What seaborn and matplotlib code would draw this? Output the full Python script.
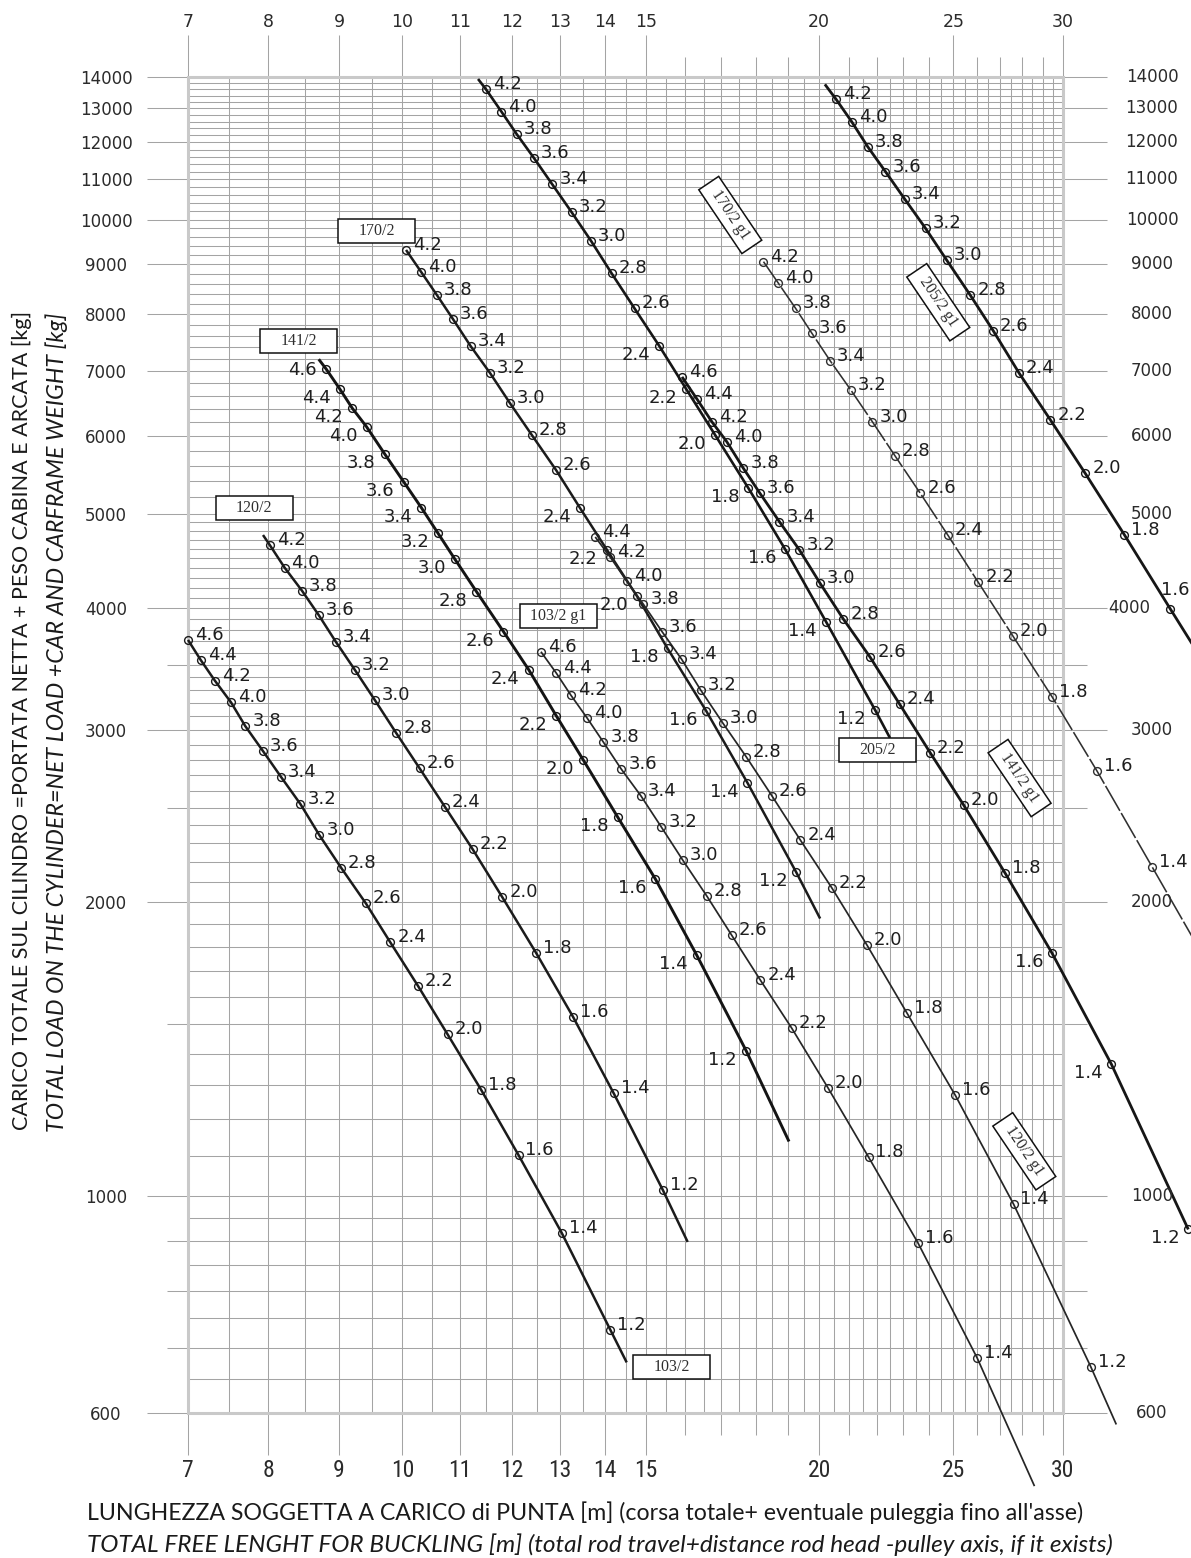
import matplotlib
matplotlib.use("Agg")
import matplotlib.pyplot as plt
import numpy as np
import pandas as pd
import seaborn as sns
from matplotlib import font_manager
from matplotlib.patches import Rectangle
from matplotlib.collections import LineCollection
from matplotlib.transforms import Affine2D, ScaledTranslation
from matplotlib.ticker import NullLocator

# ---------------------------------------------------------------- data
X_TICKS = [7, 8, 9, 10, 11, 12, 13, 14, 15, 20, 25, 30]
Y_TICKS = [600, 1000, 2000, 3000, 4000, 5000, 6000, 7000, 8000, 9000,
           10000, 11000, 12000, 13000, 14000]

# free length [m], total load [kg], pressure label (None = unlabelled end of curve)
L_103 = [7.00, 7.15, 7.32, 7.52, 7.70, 7.93, 8.17, 8.44, 8.71, 9.03, 9.41, 9.80,
         10.26, 10.78, 11.40, 12.13, 13.03, 14.13, 14.52]
W_103 = [3713, 3541, 3373, 3204, 3030, 2857, 2689, 2521, 2343, 2170, 1995, 1820,
         1643, 1465, 1285, 1102, 918, 730, 676]
P_103 = [4.6, 4.4, 4.2, 4.0, 3.8, 3.6, 3.4, 3.2, 3.0, 2.8, 2.6, 2.4, 2.2, 2.0,
         1.8, 1.6, 1.4, 1.2, None]

L_120 = [7.93, 8.02, 8.22, 8.46, 8.70, 8.95, 9.24, 9.55, 9.90, 10.29, 10.73, 11.24,
         11.81, 12.49, 13.28, 14.21, 15.42, 16.07]
W_120 = [4755, 4644, 4403, 4171, 3937, 3698, 3459, 3223, 2979, 2743, 2506, 2266,
         2023, 1775, 1527, 1275, 1015, 898]
P_120 = [None, 4.2, 4.0, 3.8, 3.6, 3.4, 3.2, 3.0, 2.8, 2.6, 2.4, 2.2, 2.0, 1.8,
         1.6, 1.4, 1.2, None]

L_141 = [8.70, 8.81, 9.01, 9.20, 9.42, 9.71, 10.02, 10.32, 10.61, 10.91, 11.31, 11.83,
         12.34, 12.92, 13.51, 14.30, 15.23, 16.31, 17.71, 19.02]
W_141 = [7197, 7030, 6710, 6411, 6138, 5755, 5391, 5071, 4774, 4493, 4161, 3786,
         3459, 3102, 2797, 2447, 2113, 1767, 1410, 1138]
P_141 = [None, 4.6, 4.4, 4.2, 4.0, 3.8, 3.6, 3.4, 3.2, 3.0, 2.8, 2.6, 2.4, 2.2,
         2.0, 1.8, 1.6, 1.4, 1.2, None]

L_170 = [10.06, 10.32, 10.59, 10.88, 11.20, 11.57, 11.96, 12.40, 12.91, 13.44, 14.05,
         14.77, 15.54, 16.57, 17.75, 19.25, 20.03]
W_170 = [9312, 8834, 8372, 7906, 7424, 6964, 6486, 6020, 5543, 5064, 4592, 4117,
         3640, 3142, 2651, 2147, 1925]
P_170 = [4.2, 4.0, 3.8, 3.6, 3.4, 3.2, 3.0, 2.8, 2.6, 2.4, 2.2, 2.0, 1.8, 1.6,
         1.4, 1.2, None]

L_205 = [11.34, 11.49, 11.79, 12.09, 12.45, 12.83, 13.25, 13.68, 14.16, 14.71, 15.33,
         16.03, 16.82, 17.78, 18.90, 20.23, 21.95, 22.50]
W_205 = [13934, 13600, 12901, 12241, 11556, 10869, 10178, 9519, 8813, 8114, 7424,
         6709, 6020, 5309, 4597, 3875, 3147, 2946]
P_205 = [None, 4.2, 4.0, 3.8, 3.6, 3.4, 3.2, 3.0, 2.8, 2.6, 2.4, 2.2, 2.0, 1.8,
         1.6, 1.4, 1.2, None]

L_103G = [12.59, 12.91, 13.23, 13.59, 13.97, 14.39, 14.87, 15.38, 15.94, 16.59, 17.29,
          18.13, 19.11, 20.29, 21.71, 23.57, 26.01, 28.61]
W_103G = [3611, 3437, 3261, 3091, 2917, 2738, 2570, 2389, 2209, 2030, 1851, 1666,
          1486, 1292, 1097, 896, 683, 505]
P_103G = [4.6, 4.4, 4.2, 4.0, 3.8, 3.6, 3.4, 3.2, 3.0, 2.8, 2.6, 2.4, 2.2, 2.0,
          1.8, 1.6, 1.4, None]

L_120G = [13.78, 14.13, 14.52, 14.93, 15.40, 15.91, 16.42, 17.03, 17.71, 18.49, 19.38,
          20.43, 21.65, 23.14, 25.08, 27.63, 31.42, 32.78]
W_120G = [4733, 4512, 4266, 4038, 3786, 3547, 3300, 3055, 2820, 2570, 2317, 2068,
          1809, 1541, 1269, 982, 669, 584]
P_120G = [4.4, 4.2, 4.0, 3.8, 3.6, 3.4, 3.2, 3.0, 2.8, 2.6, 2.4, 2.2, 2.0, 1.8,
          1.6, 1.4, 1.2, None]

L_141G = [15.92, 16.32, 16.73, 17.15, 17.63, 18.11, 18.72, 19.35, 20.03, 20.82, 21.77,
          22.86, 24.05, 25.43, 27.25, 29.46, 32.51, 36.95]
W_141G = [6903, 6552, 6210, 5925, 5565, 5254, 4906, 4592, 4243, 3900, 3564, 3192,
          2847, 2516, 2142, 1774, 1366, 925]
P_141G = [4.6, 4.4, 4.2, 4.0, 3.8, 3.6, 3.4, 3.2, 3.0, 2.8, 2.6, 2.4, 2.2, 2.0,
          1.8, 1.6, 1.4, 1.2]

L_170G = [18.23, 18.69, 19.23, 19.76, 20.37, 21.08, 21.85, 22.69, 23.66, 24.78, 26.06,
          27.59, 29.46, 31.74, 34.79, 37.70]
W_170G = [9058, 8606, 8114, 7650, 7169, 6693, 6210, 5729, 5247, 4750, 4252, 3751,
          3247, 2727, 2175, 1783]
P_170G = [4.2, 4.0, 3.8, 3.6, 3.4, 3.2, 3.0, 2.8, 2.6, 2.4, 2.2, 2.0, 1.8, 1.6,
          1.4, None]

L_205G = [20.19, 20.57, 21.11, 21.68, 22.33, 23.06, 23.87, 24.72, 25.71, 26.71, 27.89,
          29.38, 31.13, 33.22, 35.86, 37.70]
W_205G = [13760, 13283, 12600, 11878, 11200, 10496, 9798, 9094, 8372, 7699, 6964,
          6237, 5499, 4759, 3995, 3566]
P_205G = [None, 4.2, 4.0, 3.8, 3.6, 3.4, 3.2, 3.0, 2.8, 2.6, 2.4, 2.2, 2.0, 1.8,
          1.6, None]

CURVE_NAMES = ["103/2", "120/2", "141/2", "170/2", "205/2",
               "103/2 g1", "120/2 g1", "141/2 g1", "170/2 g1", "205/2 g1"]
CURVE_DATA = [(L_103, W_103, P_103), (L_120, W_120, P_120), (L_141, W_141, P_141),
              (L_170, W_170, P_170), (L_205, W_205, P_205),
              (L_103G, W_103G, P_103G), (L_120G, W_120G, P_120G),
              (L_141G, W_141G, P_141G), (L_170G, W_170G, P_170G),
              (L_205G, W_205G, P_205G)]

# labels written on the left-hand side of their marker
LEFT_LABELS = {
    "141/2": {4.6, 4.4, 4.2, 4.0, 3.8, 3.6, 3.4, 3.2, 3.0, 2.8, 2.6, 2.4, 2.2, 2.0,
              1.8, 1.6, 1.4, 1.2},
    "170/2": {2.4, 2.2, 2.0, 1.8, 1.6, 1.4, 1.2},
    "205/2": {2.4, 2.2, 2.0, 1.8, 1.6, 1.4, 1.2},
    "141/2 g1": {1.6, 1.4, 1.2},
}

# ---------------------------------------------------------------- styles
LINE_STYLE = {
    "103/2": (1.8, "#1b1b1b", None),
    "120/2": (1.8, "#1b1b1b", None),
    "141/2": (2.1, "#141414", None),
    "170/2": (1.8, "#1b1b1b", None),
    "205/2": (1.9, "#161616", None),
    "103/2 g1": (1.25, "#262626", None),
    "120/2 g1": (1.25, "#262626", None),
    "141/2 g1": (2.0, "#161616", None),
    "170/2 g1": (1.15, "#303030", (18, 1.6)),
    "205/2 g1": (2.0, "#161616", None),
}

# name tags: text, anchor (length, load), rotation
TAG_TEXT = ["170/2", "141/2", "120/2", "103/2 g1", "103/2", "205/2",
            "170/2 g1", "205/2 g1", "141/2 g1", "120/2 g1"]
TAG_AT = [(9.585, 9739), (8.419, 7509), (7.813, 5073), (12.96, 3932), (15.64, 669),
          (22.05, 2861), (17.25, 10112), (24.38, 8232), (27.91, 2681), (28.13, 1112)]
TAG_ROT = [0, 0, 0, 0, 0, 0, -56, -56, -56, -56]

TITLE_X = ["LUNGHEZZA SOGGETTA A CARICO di PUNTA [m] (corsa totale+ eventuale puleggia fino all'asse)",
           "TOTAL FREE LENGHT FOR BUCKLING [m] (total rod travel+distance rod head -pulley axis, if it exists)"]
TITLE_Y = ["CARICO TOTALE SUL CILINDRO =PORTATA NETTA + PESO CABINA E ARCATA [kg]",
           "TOTAL LOAD ON THE CYLINDER=NET LOAD +CAR AND CARFRAME WEIGHT [kg]"]


def pick(*names):
    avail = {f.name for f in font_manager.fontManager.ttflist}
    for n in names:
        if n in avail:
            return n
    return "DejaVu Sans"


sns.set_style("white")
plt.rcParams["font.family"] = ["DejaVu Sans"]
FONT_TITLE = pick("Lato", "Open Sans", "Roboto")
FONT_NARROW = pick("Liberation Sans Narrow", "Roboto Condensed", "Lato")
FONT_TAG = pick("Liberation Serif", "DejaVu Serif")

W_PX, H_PX = 1191, 1558
fig = plt.figure(figsize=(W_PX / 100, H_PX / 100), dpi=100)
fig.patch.set_facecolor("white")
ax = fig.add_axes([188 / W_PX, 1 - 1413 / H_PX, (1063 - 188) / W_PX, (1413 - 77) / H_PX])
ax.set_xscale("log")
ax.set_yscale("log")
ax.set_xlim(7, 30)
ax.set_ylim(600, 14000)
for s in ax.spines.values():
    s.set_visible(False)
ax.set_facecolor("white")

# ---------------------------------------------------------------- grid paper
GRID_C = "#a4a4a4"
h_all = list(range(600, 1000, 50)) + list(range(1000, 5000, 100)) + list(range(5000, 14001, 200))
h_semi = [700, 800, 900, 1500, 2500, 3500]
h_minor = [v for v in h_all if v not in Y_TICKS and v not in h_semi]
v_all = [7 + 0.5 * i for i in range(47)]
v_int = [v for v in v_all if v == int(v) and v not in X_TICKS]
v_half = [v for v in v_all if v != int(v)]


def hgrid(values, a0, a1, lw=0.75, color=GRID_C, z=1):
    segs = [[(a0, v), (a1, v)] for v in values]
    ax.add_collection(LineCollection(segs, colors=color, linewidths=lw, zorder=z,
                                     transform=ax.get_yaxis_transform(), clip_on=False),
                      autolim=False)


def vgrid(values, a0, a1, lw=0.75, color=GRID_C, z=1):
    segs = [[(v, a0), (v, a1)] for v in values]
    ax.add_collection(LineCollection(segs, colors=color, linewidths=lw, zorder=z,
                                     transform=ax.get_xaxis_transform(), clip_on=False),
                      autolim=False)


hgrid(h_minor, 0, 1)
hgrid(h_semi, -21 / 875, 1 + 24 / 875)
hgrid(Y_TICKS, -41 / 875, 1 + 44 / 875)
vgrid(v_half, 0, 1)
vgrid(v_int, -22 / 1336, 1 + 20 / 1336)
vgrid(X_TICKS, -42 / 1336, 1 + 42 / 1336)
ax.add_patch(Rectangle((0, 0), 1, 1, transform=ax.transAxes, fill=False,
                       ec="#c9c9c9", lw=2.2, zorder=1.5, clip_on=False))

# ---------------------------------------------------------------- curves
for name, (L, W, P) in zip(CURVE_NAMES, CURVE_DATA):
    lw, col, dash = LINE_STYLE[name]
    df = pd.DataFrame({"length": L, "load": W, "pressure": P})
    kw = dict(color=col, lw=lw, clip_on=False, zorder=3, solid_capstyle="butt")
    if dash is not None:
        kw["dashes"] = dash
    sns.lineplot(data=df, x="length", y="load", sort=False, estimator=None,
                 ax=ax, legend=False, **kw)
    pts = df.dropna(subset=["pressure"])
    sns.lineplot(data=pts, x="length", y="load", sort=False, estimator=None, ax=ax,
                 legend=False, marker="o", linestyle="", ms=5.6, mfc="none",
                 mec=col, mew=1.0, color=col, clip_on=False, zorder=4)
    left = LEFT_LABELS.get(name, set())
    for x, y, p in zip(pts["length"], pts["load"], pts["pressure"]):
        if name == "205/2 g1" and p == 1.6:
            off, ha = (-6.5, 13.5), "left"
        elif name == "141/2" and p == 4.6:
            off, ha = (-7.0, -0.8), "right"
        elif p in left:
            off, ha = (-6.5, -6.5), "right"
        else:
            off, ha = (5.0, 3.6), "left"
        ax.annotate(f"{p:.1f}", (x, y), xytext=off, textcoords="offset points",
                    ha=ha, va="center", fontsize=13, color="#1e1e1e",
                    annotation_clip=False, zorder=5)

ax.set_xlabel("")
ax.set_ylabel("")

# ---------------------------------------------------------------- ticks
ax.set_xticks(X_TICKS)
ax.set_xticklabels([str(v) for v in X_TICKS])
ax.xaxis.set_minor_locator(NullLocator())
ax.tick_params(axis="x", which="both", length=0, pad=33, top=True, labeltop=True,
               bottom=True, labelbottom=True, colors="#2b2b2b")
for t in ax.xaxis.get_major_ticks():
    t.label1.set_fontfamily(FONT_NARROW)
    t.label1.set_fontsize(17)
    t.label2.set_fontsize(12.5)

ax.set_yticks(Y_TICKS)
ax.set_yticklabels([str(v) for v in Y_TICKS])
ax.yaxis.set_minor_locator(NullLocator())
ax.tick_params(axis="y", which="both", length=0, pad=59, labelsize=12, colors="#2b2b2b")
for lab in ax.get_yticklabels():
    lab.set_horizontalalignment("center")
for v in Y_TICKS:
    xr = 1.0754 if v == 4000 else 1.1017
    ax.text(xr, v, str(v), transform=ax.get_yaxis_transform(), ha="center", va="center",
            fontsize=12, color="#2b2b2b", clip_on=False)

# ---------------------------------------------------------------- name tags
for text, (x, y), rot in zip(TAG_TEXT, TAG_AT, TAG_ROT):
    w, h = 0.77, 0.24
    tr = (Affine2D().translate(-0.5, -0.5).scale(w, h).rotate_deg(rot)
          + fig.dpi_scale_trans + ScaledTranslation(x, y, ax.transData))
    ax.add_patch(Rectangle((0, 0), 1, 1, transform=tr, fc="white", ec="#111111",
                           lw=1.1, zorder=6, clip_on=False))
    ax.text(x, y, text, rotation=rot, rotation_mode="anchor", ha="center", va="center",
            family=FONT_TAG, fontsize=11.5, color="#2e2e2e", zorder=7, clip_on=False)

# ---------------------------------------------------------------- axis titles
renderer = fig.canvas.get_renderer()


def fit(txt, target_px, vertical=False):
    bb = txt.get_window_extent(renderer)
    cur = bb.height if vertical else bb.width
    txt.set_fontsize(txt.get_fontsize() * target_px / cur)


tx1 = fig.text(87 / W_PX, 1 - 1513 / H_PX, TITLE_X[0], ha="left", va="center",
               family=FONT_TITLE, fontsize=16, color="#1a1a1a")
tx2 = fig.text(87 / W_PX, 1 - 1545 / H_PX, TITLE_X[1], ha="left", va="center",
               family=FONT_TITLE, style="italic", fontsize=16, color="#1a1a1a")
ty1 = fig.text(22 / W_PX, 1 - 720 / H_PX, TITLE_Y[0], ha="center", va="center",
               rotation=90, family=FONT_TITLE, fontsize=16, color="#1a1a1a")
ty2 = fig.text(57 / W_PX, 1 - 722 / H_PX, TITLE_Y[1], ha="center", va="center",
               rotation=90, family=FONT_TITLE, style="italic", fontsize=16, color="#1a1a1a")
fit(tx1, 996)
fit(tx2, 1027)
fit(ty1, 820, vertical=True)
fit(ty2, 818, vertical=True)

fig.savefig("out.png", dpi=100, facecolor="white")
